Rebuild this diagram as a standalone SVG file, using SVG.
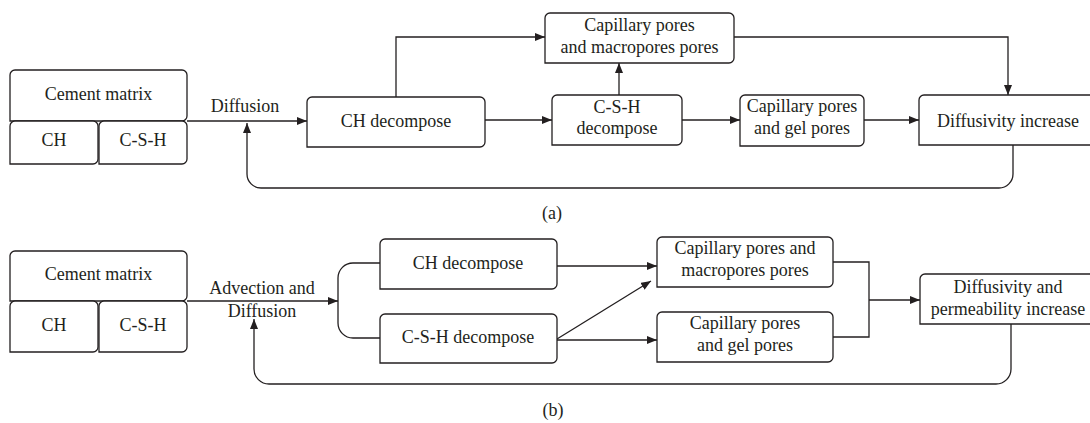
<svg xmlns="http://www.w3.org/2000/svg" width="1090" height="423" viewBox="0 0 1090 423">
<defs>
<style>
.box{fill:#fff;stroke:#231f20;stroke-width:1.3}
.ln{fill:none;stroke:#231f20;stroke-width:1.3}
.t{font-family:"Liberation Serif","Times New Roman",serif;font-size:18px;fill:#231f20;text-anchor:middle}
.cap{font-family:"Liberation Serif","Times New Roman",serif;font-size:18px;fill:#231f20;text-anchor:middle}
</style>
<marker id="ah" markerUnits="userSpaceOnUse" markerWidth="10" markerHeight="8" refX="10" refY="4" orient="auto">
<path d="M0,0 L10,4 L0,8 Z" fill="#231f20"/>
</marker>
</defs>
<rect width="1090" height="423" fill="#fff"/>

<g id="connectors">
<!-- (a) -->
<path class="ln" d="M187,121 H307" marker-end="url(#ah)"/>
<path class="ln" d="M396,97 V37 H545" marker-end="url(#ah)"/>
<path class="ln" d="M485,120 H552" marker-end="url(#ah)"/>
<path class="ln" d="M619,95 V63" marker-end="url(#ah)"/>
<path class="ln" d="M682,120 H740" marker-end="url(#ah)"/>
<path class="ln" d="M864,120 H919" marker-end="url(#ah)"/>
<path class="ln" d="M734,37 H1008 V95" marker-end="url(#ah)"/>
<path class="ln" d="M1013,145 V174 A14,14 0 0 1 999,188 H261 A14,14 0 0 1 247,174 V123" marker-end="url(#ah)"/>
<!-- (b) -->
<path class="ln" d="M187,301 H338" marker-end="url(#ah)"/>
<path class="ln" d="M380,263 H353 A15,15 0 0 0 338,278 V323 A15,15 0 0 0 353,338 H380"/>
<path class="ln" d="M557,266 H657" marker-end="url(#ah)"/>
<path class="ln" d="M557,339 L651,281" marker-end="url(#ah)"/>
<path class="ln" d="M557,340 H657" marker-end="url(#ah)"/>
<path class="ln" d="M833,262 H869 V337 H833"/>
<path class="ln" d="M869,300 H920" marker-end="url(#ah)"/>
<path class="ln" d="M1011,324 V369 A15,15 0 0 1 996,384 H269 A15,15 0 0 1 254,369 V319" marker-end="url(#ah)"/>
</g>

<!-- (a) nodes -->
<g id="a-cement">
<path class="box" d="M10,75 A5,5 0 0 1 15,70 H182 A5,5 0 0 1 187,75 V116 A5,5 0 0 1 182,121 H10 Z"/>
<text class="t" x="98.5" y="100">Cement matrix</text>
</g>
<g id="a-ch">
<path class="box" d="M10,126 A5,5 0 0 1 15,121 H93 A5,5 0 0 1 98,126 V159 A5,5 0 0 1 93,164 H10 Z"/>
<text class="t" x="54" y="146">CH</text>
</g>
<g id="a-csh">
<path class="box" d="M99,126 A5,5 0 0 1 104,121 H182 A5,5 0 0 1 187,126 V159 A5,5 0 0 1 182,164 H99 Z"/>
<text class="t" x="143" y="146">C-S-H</text>
</g>
<g id="a-diffusion-label">
<text class="t" x="245" y="112">Diffusion</text>
</g>
<g id="a-ch-decompose">
<path class="box" d="M307,102 A5,5 0 0 1 312,97 H480 A5,5 0 0 1 485,102 V142 A5,5 0 0 1 480,147 H307 Z"/>
<text class="t" x="396" y="127">CH decompose</text>
</g>
<g id="a-cap-macro">
<path class="box" d="M545,18 A5,5 0 0 1 550,13 H729 A5,5 0 0 1 734,18 V58 A5,5 0 0 1 729,63 H545 Z"/>
<text class="t" x="639.5" y="31">Capillary pores</text>
<text class="t" x="639.5" y="53">and macropores pores</text>
</g>
<g id="a-csh-decompose">
<path class="box" d="M552,100 A5,5 0 0 1 557,95 H677 A5,5 0 0 1 682,100 V140 A5,5 0 0 1 677,145 H552 Z"/>
<text class="t" x="617" y="113">C-S-H</text>
<text class="t" x="617" y="134">decompose</text>
</g>
<g id="a-cap-gel">
<path class="box" d="M740,100 A5,5 0 0 1 745,95 H859 A5,5 0 0 1 864,100 V141 A5,5 0 0 1 859,146 H740 Z"/>
<text class="t" x="802" y="112">Capillary pores</text>
<text class="t" x="802" y="134">and gel pores</text>
</g>
<g id="a-diffusivity">
<path class="box" d="M919,100 A5,5 0 0 1 924,95 H1090 A5,5 0 0 1 1095,100 V140 A5,5 0 0 1 1090,145 H919 Z"/>
<text class="t" x="1008" y="127">Diffusivity increase</text>
</g>
<text class="cap" x="552" y="219">(a)</text>

<!-- (b) nodes -->
<g id="b-cement">
<path class="box" d="M10,256 A5,5 0 0 1 15,251 H182 A5,5 0 0 1 187,256 V296 A5,5 0 0 1 182,301 H10 Z"/>
<text class="t" x="98.5" y="280">Cement matrix</text>
</g>
<g id="b-ch">
<path class="box" d="M10,306 A5,5 0 0 1 15,301 H93 A5,5 0 0 1 98,306 V347 A5,5 0 0 1 93,352 H10 Z"/>
<text class="t" x="54" y="331">CH</text>
</g>
<g id="b-csh">
<path class="box" d="M99,306 A5,5 0 0 1 104,301 H182 A5,5 0 0 1 187,306 V347 A5,5 0 0 1 182,352 H99 Z"/>
<text class="t" x="143" y="331">C-S-H</text>
</g>
<g id="b-advection-label">
<text class="t" x="262" y="294">Advection and</text>
<text class="t" x="262" y="317">Diffusion</text>
</g>
<g id="b-ch-decompose">
<path class="box" d="M380,244 A5,5 0 0 1 385,239 H552 A5,5 0 0 1 557,244 V284 A5,5 0 0 1 552,289 H380 Z"/>
<text class="t" x="468" y="269">CH decompose</text>
</g>
<g id="b-csh-decompose">
<path class="box" d="M380,319 A5,5 0 0 1 385,314 H552 A5,5 0 0 1 557,319 V358 A5,5 0 0 1 552,363 H380 Z"/>
<text class="t" x="468" y="343">C-S-H decompose</text>
</g>
<g id="b-cap-macro">
<path class="box" d="M657,242 A5,5 0 0 1 662,237 H828 A5,5 0 0 1 833,242 V282 A5,5 0 0 1 828,287 H657 Z"/>
<text class="t" x="745" y="254">Capillary pores and</text>
<text class="t" x="745" y="276">macropores pores</text>
</g>
<g id="b-cap-gel">
<path class="box" d="M657,317 A5,5 0 0 1 662,312 H828 A5,5 0 0 1 833,317 V357 A5,5 0 0 1 828,362 H657 Z"/>
<text class="t" x="745" y="329">Capillary pores</text>
<text class="t" x="745" y="351">and gel pores</text>
</g>
<g id="b-diffusivity">
<path class="box" d="M920,279 A5,5 0 0 1 925,274 H1090 A5,5 0 0 1 1095,279 V319 A5,5 0 0 1 1090,324 H920 Z"/>
<text class="t" x="1008" y="293">Diffusivity and</text>
<text class="t" x="1008" y="315">permeability increase</text>
</g>
<text class="cap" x="553" y="416">(b)</text>
</svg>
